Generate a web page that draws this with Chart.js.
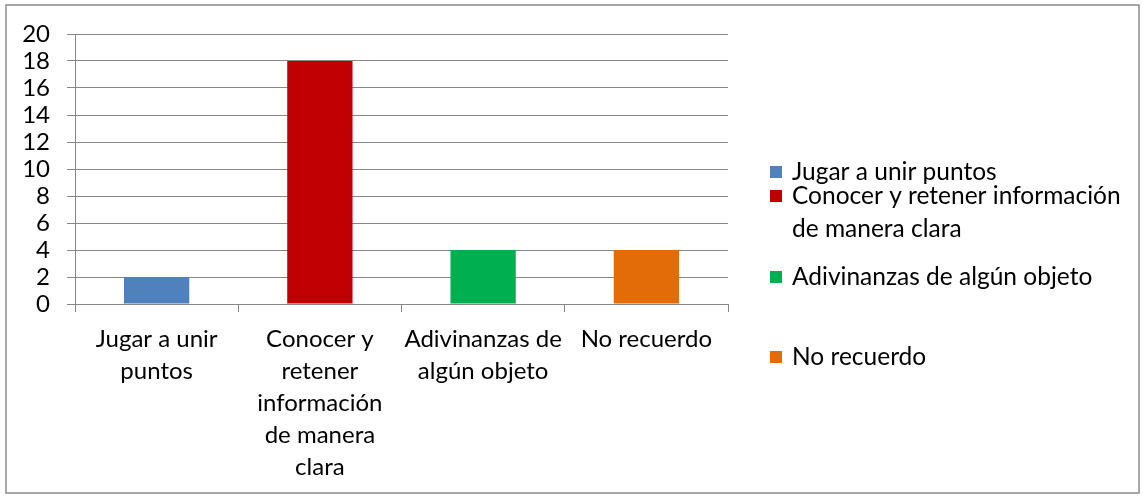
<!DOCTYPE html>
<html>
<head>
<meta charset="utf-8">
<script src="https://cdn.jsdelivr.net/npm/chart.js@4.4.0/dist/chart.umd.min.js"></script>
<style>
  html, body { margin: 0; padding: 0; background: #fff; }
  #wrap { width: 1143px; height: 497px; position: relative; }
</style>
</head>
<body>
<div id="wrap"><canvas id="barChart" width="1143" height="497"></canvas></div>
<script>
const categories = [
  ['Jugar a unir', 'puntos'],
  ['Conocer y', 'retener', 'información', 'de manera', 'clara'],
  ['Adivinanzas de', 'algún objeto'],
  ['No recuerdo']
];
const values = [2, 18, 4, 4];
const colors = ['#4F81BD', '#C00000', '#00B050', '#E36C09'];
const legendLabels = [
  ['Jugar a unir puntos'],
  ['Conocer y retener información', 'de manera clara'],
  ['Adivinanzas de algún objeto'],
  ['No recuerdo']
];
const legendY = [172, 196, 277, 357];

const FONT = 'Lato, "Open Sans", sans-serif';
Chart.defaults.font.family = FONT;
Chart.defaults.color = '#000';

const frameAndLegend = {
  id: 'frameAndLegend',
  afterDraw(chart) {
    const c = chart.ctx;
    c.save();
    c.strokeStyle = '#8c8c8c';
    c.lineWidth = 1.5;
    c.strokeRect(6, 5, 1133, 488);
    c.font = '24.5px ' + FONT;
    c.textBaseline = 'middle';
    c.textAlign = 'left';
    legendLabels.forEach((lines, i) => {
      const y = legendY[i];
      c.fillStyle = colors[i];
      c.fillRect(770, y - 6, 12, 12);
      c.fillStyle = '#000';
      lines.forEach((t, k) => c.fillText(t, 792, y + k * 33));
    });
    c.restore();
  }
};

new Chart(document.getElementById('barChart').getContext('2d'), {
  type: 'bar',
  data: {
    labels: categories,
    datasets: [{
      data: values,
      backgroundColor: colors,
      barPercentage: 0.4,
      categoryPercentage: 1.0
    }]
  },
  options: {
    responsive: false,
    animation: false,
    layout: { padding: { top: 34, right: 415, left: 0, bottom: 0 } },
    plugins: { legend: { display: false }, tooltip: { enabled: false } },
    scales: {
      x: {
        afterFit: s => { s.height = 193; },
        grid: { drawOnChartArea: false, color: '#868686', tickLength: 8 },
        border: { color: '#868686' },
        ticks: { maxRotation: 0, autoSkip: false, font: { size: 24, lineHeight: 1.34 }, padding: 11 }
      },
      y: {
        min: 0, max: 20,
        afterFit: s => { s.width = 75; },
        grid: { color: '#868686', tickLength: 8 },
        border: { color: '#868686' },
        ticks: { stepSize: 2, autoSkip: false, font: { size: 24 }, padding: 17 }
      }
    }
  },
  plugins: [frameAndLegend]
});
</script>
</body>
</html>
